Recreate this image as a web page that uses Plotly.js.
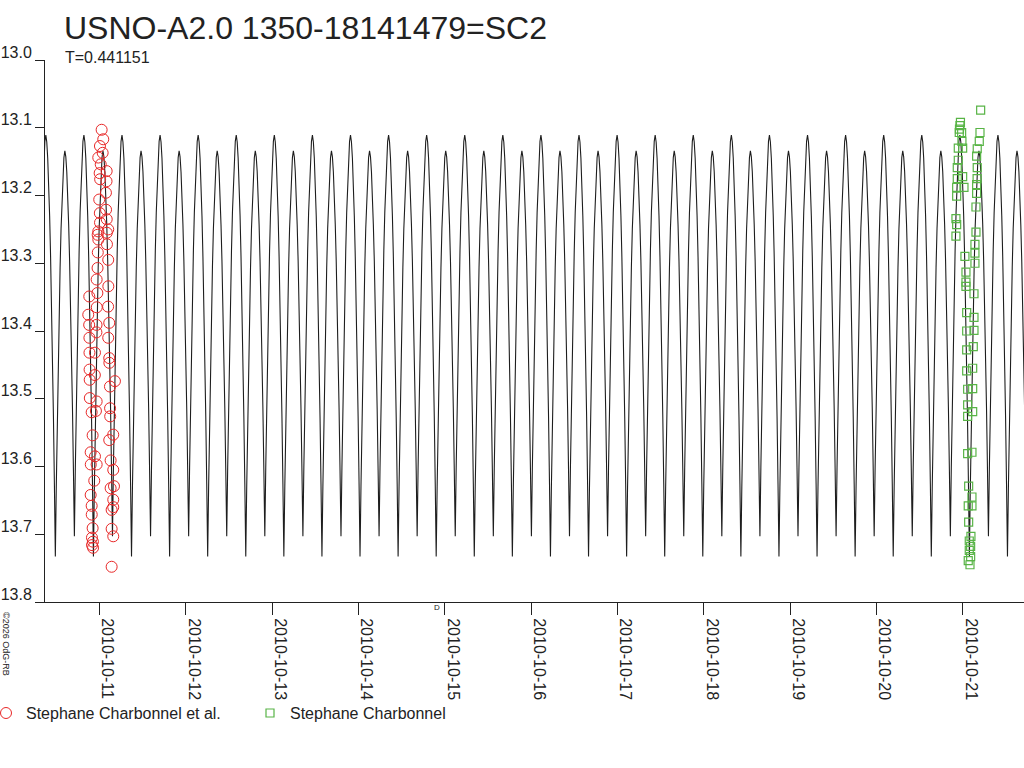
<!DOCTYPE html>
<html><head><meta charset="utf-8">
<script src="https://cdn.plot.ly/plotly-3.0.1.min.js"></script>
<style>html,body{margin:0;padding:0;background:#fff}#chart{width:1024px;height:768px}</style>
</head><body><div id="chart"></div>
<script>
// ---- Light-curve model (one period template) ----
const period = 0.441151;              // days (T on the chart)
const epochDeepMin = 3.016;           // days after 2010-10-11 00:00 UT, deep minimum
const templatePhase = [0,0.025,0.05,0.075,0.1,0.125,0.15,0.175,0.2,0.225,0.25,0.275,0.3,0.325,0.35,0.375,0.4,0.425,0.45,0.475,0.5,
                       0.525,0.55,0.575,0.6,0.625,0.65,0.675,0.7,0.725,0.75,0.775,0.8,0.825,0.85,0.875,0.9,0.925,0.95,0.975,1.0];
const templateMag   = [13.733,13.629,13.535,13.449,13.373,13.306,13.249,13.203,13.167,13.144,13.134,13.143,13.165,13.199,13.243,13.297,13.361,13.433,13.515,13.605,13.703,
                       13.601,13.507,13.422,13.347,13.281,13.225,13.179,13.144,13.120,13.111,13.121,13.145,13.183,13.230,13.290,13.359,13.438,13.527,13.625,13.733];

// ---- Observations: Stephane Charbonnel et al. ----
const redTime = ['2010-10-11 00:33','2010-10-11 01:00','2010-10-11 00:05','2010-10-11 00:50','2010-10-10 23:37','2010-10-11 00:18','2010-10-11 01:57','2010-10-11 00:00','2010-10-11 00:08','2010-10-11 01:55','2010-10-11 01:45','2010-10-10 23:53','2010-10-11 01:47','2010-10-11 00:03','2010-10-11 01:58','2010-10-11 00:06','2010-10-11 02:23','2010-10-10 23:37',
'2010-10-10 23:27','2010-10-10 23:38','2010-10-11 02:00','2010-10-11 02:02','2010-10-11 02:23','2010-10-10 23:29','2010-10-10 23:25','2010-10-10 23:10','2010-10-11 02:25','2010-10-10 21:07','2010-10-10 23:22','2010-10-10 23:12','2010-10-11 02:21','2010-10-10 20:50','2010-10-10 21:05','2010-10-10 23:08','2010-10-11 02:40','2010-10-10 23:06','2010-10-10 21:09','2010-10-11 02:23','2010-10-10 21:10','2010-10-10 22:42','2010-10-11 02:40','2010-10-11 02:42','2010-10-10 21:12','2010-10-10 22:40','2010-10-10 21:14','2010-10-11 04:15','2010-10-11 02:52','2010-10-10 21:16','2010-10-10 23:10','2010-10-11 02:54','2010-10-10 21:47','2010-10-10 22:58','2010-10-11 02:56',
'2010-10-10 22:03','2010-10-11 03:47','2010-10-11 02:40','2010-10-10 21:30','2010-10-10 22:42','2010-10-10 21:32','2010-10-10 23:10','2010-10-11 03:03','2010-10-11 03:47','2010-10-10 22:30','2010-10-11 03:59','2010-10-11 03:03','2010-10-10 21:30','2010-10-11 03:47','2010-10-10 21:47','2010-10-11 03:20','2010-10-10 21:48','2010-10-11 03:47','2010-10-10 22:03','2010-10-11 03:20','2010-10-11 03:47','2010-10-10 21:52','2010-10-10 22:08','2010-10-10 21:53','2010-10-10 22:10','2010-10-11 03:20'];
const redMag = [13.103,13.117,13.127,13.137,13.144,13.154,13.164,13.167,13.176,13.179,13.196,13.206,13.221,13.226,13.235,13.240,13.250,13.253,
13.258,13.265,13.255,13.272,13.295,13.284,13.307,13.324,13.334,13.349,13.344,13.365,13.364,13.376,13.391,13.391,13.388,13.402,13.410,13.410,13.432,13.432,13.440,13.447,13.457,13.465,13.472,13.474,13.482,13.499,13.504,13.514,13.520,13.518,13.526,
13.554,13.553,13.561,13.579,13.585,13.597,13.597,13.591,13.605,13.621,13.629,13.632,13.642,13.649,13.658,13.664,13.671,13.660,13.691,13.692,13.703,13.705,13.711,13.716,13.720,13.748];

// ---- Observations: Stephane Charbonnel ----
const greenTime = ['2010-10-20 23:10','2010-10-20 23:18','2010-10-20 23:02','2010-10-20 22:58','2010-10-20 23:38','2010-10-21 04:44','2010-10-21 04:55','2010-10-21 04:32','2010-10-20 23:43','2010-10-20 22:42','2010-10-20 23:55','2010-10-21 03:58','2010-10-21 03:48','2010-10-20 22:42','2010-10-21 03:58','2010-10-20 22:25','2010-10-21 03:56','2010-10-21 03:48','2010-10-20 22:25','2010-10-20 23:55','2010-10-20 22:15','2010-10-21 00:17','2010-10-21 03:48','2010-10-20 22:15','2010-10-21 03:37','2010-10-20 22:03','2010-10-20 22:15','2010-10-20 22:03','2010-10-21 03:37','2010-10-21 03:20','2010-10-21 03:20','2010-10-21 03:20','2010-10-21 00:33',
'2010-10-21 00:50','2010-10-21 00:50','2010-10-21 00:50','2010-10-21 03:04','2010-10-21 01:02','2010-10-21 03:04','2010-10-21 01:02','2010-10-21 03:04','2010-10-21 01:02','2010-10-21 02:52','2010-10-21 01:02','2010-10-21 02:42','2010-10-21 01:18','2010-10-21 02:42','2010-10-21 01:18','2010-10-21 02:42','2010-10-21 01:18',
'2010-10-21 01:18','2010-10-21 02:30','2010-10-21 01:35','2010-10-21 02:30','2010-10-21 01:28','2010-10-21 02:30','2010-10-21 01:35','2010-10-21 02:13','2010-10-21 01:45','2010-10-21 02:08','2010-10-21 01:45','2010-10-21 02:08','2010-10-21 01:28','2010-10-21 01:57'];
const greenMag = [13.097,13.092,13.102,13.107,13.107,13.107,13.074,13.120,13.120,13.130,13.130,13.131,13.142,13.148,13.159,13.159,13.175,13.184,13.175,13.172,13.188,13.188,13.197,13.201,13.217,13.234,13.243,13.260,13.254,13.272,13.285,13.300,13.290,
13.313,13.328,13.334,13.345,13.373,13.380,13.400,13.399,13.428,13.423,13.459,13.455,13.486,13.485,13.509,13.519,13.526,
13.581,13.579,13.629,13.645,13.658,13.658,13.682,13.703,13.710,13.718,13.724,13.733,13.739,13.745];

// ---- Axis ticks ----
const xTickDates = ['2010-10-11','2010-10-12','2010-10-13','2010-10-14','2010-10-15','2010-10-16','2010-10-17','2010-10-18','2010-10-19','2010-10-20','2010-10-21'];
const yTickVals = [13.0,13.1,13.2,13.3,13.4,13.5,13.6,13.7,13.8];
const yTickText = ['13.0','13.1','13.2','13.3','13.4','13.5','13.6','13.7','13.8'];

// build model line from template, repeated with period T
const DAY = 86400000;
const base = Date.UTC(2010, 9, 11);
const modelX = [], modelY = [];
for (let n = -9; n <= 17; n++) {
  for (let i = 0; i < templatePhase.length - 1; i++) {
    const d = epochDeepMin + (n + templatePhase[i]) * period;
    modelX.push(base + d * DAY);
    modelY.push(templateMag[i]);
  }
}

const font = 'Liberation Sans, Arial, Helvetica, sans-serif';
const traces = [
  {x: modelX, y: modelY, type: 'scatter', mode: 'lines', line: {color: '#1e1e1e', width: 1.1}, showlegend: false, hoverinfo: 'skip'},
  {x: redTime, y: redMag, type: 'scatter', mode: 'markers', name: 'Stephane Charbonnel et al.',
   marker: {symbol: 'circle-open', size: 11, color: 'rgb(232,40,40)', line: {width: 1, color: 'rgb(232,40,40)'}}},
  {x: greenTime, y: greenMag, type: 'scatter', mode: 'markers', name: 'Stephane Charbonnel',
   marker: {symbol: 'square-open', size: 8, color: 'rgb(88,180,70)', line: {width: 1.2, color: 'rgb(88,180,70)'}}}
];

const px = v => (v - 45) / 979;
const py = v => (602 - v) / 541.5;

const layout = {
  width: 1024, height: 768,
  margin: {l: 45, r: 0, t: 60, b: 166, pad: 0, autoexpand: false},
  paper_bgcolor: '#fff', plot_bgcolor: '#fff',
  font: {family: font, color: '#222', size: 16},
  title: {text: 'USNO-A2.0 1350-18141479=SC2', xref: 'container', yref: 'container', x: 64/1024, xanchor: 'left', y: 1 - 28/768, yanchor: 'middle', font: {family: font, size: 32, color: '#222'}},
  xaxis: {type: 'date', range: [base - 0.633*DAY, base + 10.707*DAY], tickmode: 'array', tickvals: xTickDates, ticktext: xTickDates,
          tickangle: 90, ticks: 'outside', ticklen: 12, tickwidth: 1, tickcolor: '#222', showline: true, linecolor: '#222', linewidth: 1,
          showgrid: false, zeroline: false, tickfont: {family: font, size: 16, color: '#222'}, ticklabelshift: 8, ticklabelstandoff: 0, automargin: false},
  yaxis: {range: [13.8, 13.0], tickmode: 'array', tickvals: yTickVals, ticktext: yTickText, ticks: 'outside', ticklen: 9, tickwidth: 1, tickcolor: '#222',
          showline: true, linecolor: '#222', linewidth: 1, showgrid: false, zeroline: false, tickfont: {family: font, size: 16, color: '#222'}, ticklabelshift: 8, ticklabelstandoff: 0, automargin: false},
  showlegend: true,
  legend: {orientation: 'h', xref: 'paper', yref: 'paper', x: px(-14), xanchor: 'left', y: py(713), yanchor: 'middle',
           font: {family: font, size: 16, color: '#222'}, itemwidth: 30, entrywidth: 219, entrywidthmode: 'pixels', bgcolor: 'rgba(0,0,0,0)'},
  annotations: [
    {text: 'T=0.441151', xref: 'paper', yref: 'paper', x: px(63), y: py(58.5), xanchor: 'left', yanchor: 'middle', showarrow: false, font: {family: font, size: 16, color: '#222'}},
    {text: 'D', xref: 'paper', yref: 'paper', x: px(437), y: py(607), xanchor: 'center', yanchor: 'middle', showarrow: false, font: {family: font, size: 8, color: '#222'}},
    {text: '©2026 OdG-RB', xref: 'paper', yref: 'paper', x: px(6), y: py(644), xanchor: 'center', yanchor: 'middle', textangle: 90, showarrow: false, font: {family: font, size: 9, color: '#222'}}
  ]
};

Plotly.newPlot('chart', traces, layout, {displayModeBar: false, staticPlot: true});
</script></body></html>
